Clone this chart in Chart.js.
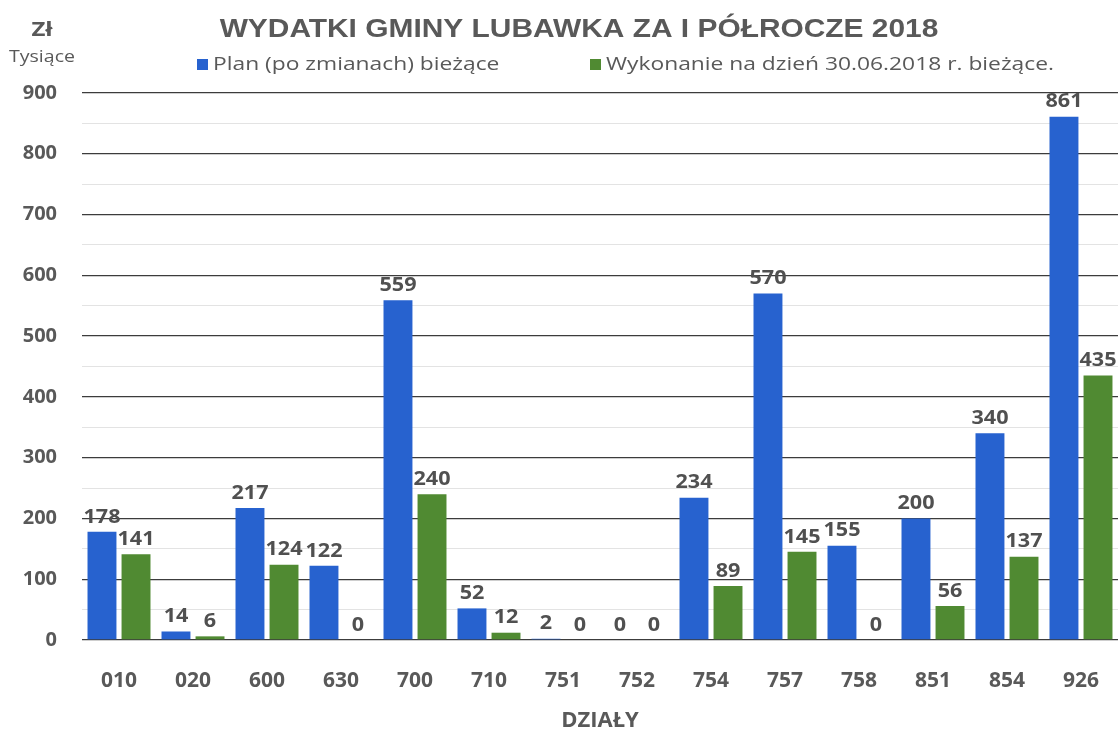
<!DOCTYPE html>
<html>
<head>
<meta charset="utf-8">
<script src="https://cdn.jsdelivr.net/npm/chart.js@4.4.1/dist/chart.umd.min.js"></script>
<style>
body{margin:0;background:#fff}
#wrap{width:1119px;height:737px}
</style>
</head>
<body>
<div id="wrap"><canvas id="c" width="1119" height="737"></canvas></div>
<script>
const categories = ['010','020','600','630','700','710','751','752','754','757','758','851','854','926'];
const planValues = [178,14,217,122,559,52,2,0,234,570,155,200,340,861];
const doneValues = [141,6,124,0,240,12,0,0,89,145,0,56,137,435];
const seriesNames = ['Plan (po zmianach) bieżące','Wykonanie na dzień 30.06.2018 r. bieżące.'];
const chartTitle = 'WYDATKI GMINY LUBAWKA ZA I PÓŁROCZE 2018';
const unitTop = 'Zł';
const unitBottom = 'Tysiące';
const xTitle = 'DZIAŁY';

const BLUE = '#2762cf', GREEN = '#508a32', TXT = '#595959';
const FONT = '"Open Sans", sans-serif';

// text a bit wider than the font draws it (the original is stretched)
function wideText(ctx, txt, x, y, sx){
  ctx.save();
  ctx.translate(x, y);
  ctx.scale(sx, 1);
  ctx.fillText(txt, 0, 0);
  ctx.restore();
}

// header: unit, title, legend
const header = {
  id:'header',
  afterDraw(chart){
    const ctx = chart.ctx;
    ctx.save();
    ctx.fillStyle = TXT;
    ctx.textBaseline = 'middle';
    ctx.textAlign = 'center';
    ctx.font = 'bold 20px ' + FONT;
    wideText(ctx, unitTop, 42, 30, 1.2);
    ctx.font = '16px ' + FONT;
    wideText(ctx, unitBottom, 42, 57, 1.22);
    ctx.font = 'bold 26px "Liberation Sans", Arial, sans-serif';
    wideText(ctx, chartTitle, 579, 30, 1.15);
    // legend
    ctx.textAlign = 'left';
    ctx.font = '19px ' + FONT;
    const items = [[197, BLUE], [590, GREEN]];
    chart.data.datasets.forEach((ds, i) => {
      const [x, col] = items[i];
      ctx.fillStyle = col;
      ctx.fillRect(x, 59, 11, 11);
      ctx.fillStyle = TXT;
      wideText(ctx, ds.label, x + 16, 65, 1.2);
    });
    ctx.restore();
  }
};

// value labels above bars
const valueLabels = {
  id:'valueLabels',
  afterDatasetsDraw(chart){
    const ctx = chart.ctx;
    ctx.save();
    ctx.fillStyle = '#505050';
    ctx.font = 'bold 20px ' + FONT;
    ctx.textAlign = 'center';
    ctx.textBaseline = 'bottom';
    chart.data.datasets.forEach((ds, i) => {
      chart.getDatasetMeta(i).data.forEach((bar, j) => {
        wideText(ctx, String(ds.data[j]), bar.x, bar.y - 5, 1.08);
      });
    });
    ctx.restore();
  }
};

new Chart(document.getElementById('c'), {
  type:'bar',
  data:{
    labels:categories,
    datasets:[
      {label:seriesNames[0], data:planValues, backgroundColor:BLUE},
      {label:seriesNames[1], data:doneValues, backgroundColor:GREEN}
    ]
  },
  options:{
    responsive:false,
    animation:false,
    layout:{padding:{top:93, right:0, left:0, bottom:0}},
    datasets:{bar:{categoryPercentage:0.92, barPercentage:0.85}},
    plugins:{legend:{display:false}, title:{display:false}, tooltip:{enabled:false}},
    scales:{
      x:{
        afterFit(s){ s.height = 97 },
        grid:{display:false},
        border:{display:false},
        ticks:{color:TXT, padding:20, font:{family:FONT, size:21, weight:'bold'}},
        title:{display:true, text:xTitle, color:TXT, padding:{top:0, bottom:3}, font:{family:FONT, size:22, weight:'bold'}}
      },
      y:{
        min:0, max:900,
        afterFit(s){ s.width = 82 },
        border:{display:false},
        grid:{
          drawTicks:false,
          color:c => c.tick && c.tick.value % 100 === 0 ? '#3c3c3c' : '#e3e3e3',
          lineWidth:c => c.tick && c.tick.value % 100 === 0 ? 1.3 : 1
        },
        ticks:{
          stepSize:25, padding:25, color:TXT,
          font:{family:FONT, size:20, weight:'bold'},
          callback:v => v % 100 === 0 ? v : ''
        }
      }
    }
  },
  plugins:[header, valueLabels]
});
</script>
</body>
</html>
